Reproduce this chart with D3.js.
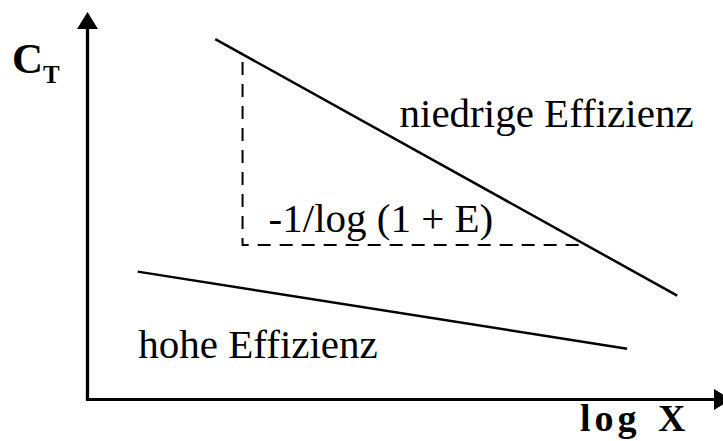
<!DOCTYPE html>
<html>
<head>
<meta charset="utf-8">
<script src="https://cdn.jsdelivr.net/npm/d3@7"></script>
<style>
  body { margin: 0; background: #fff; }
  svg { display: block; }
</style>
</head>
<body>
<div class="container"></div>
<script>
// lines in log X / C_T units (schematic, no real scale)
const lowEff = [[2.01, 9.30], [9.28, 2.68]]
const highEff = [[0.79, 3.30], [8.49, 1.31]]
const slopeGuide = [[2.44, 8.71], [2.44, 3.99], [7.75, 3.99]]
const labels = ["niedrige Effizienz", "-1/log (1 + E)", "hohe Effizienz"]
const labelPos = [[4.91, 7.04], [2.85, 4.33], [0.80, 1.08]]

const width = 723
const height = 441

const xScale = d3.scaleLinear().domain([0, 10]).range([87.5, 723])
const yScale = d3.scaleLinear().domain([0, 10]).range([399.5, 12])

const svg = d3.select(".container").append("svg")
    .attr("width", width)
    .attr("height", height)

const defs = svg.append("defs")
defs.append("marker")
    .attr("id", "arrow")
    .attr("viewBox", "0 0 17 21")
    .attr("refX", 0)
    .attr("refY", 10.5)
    .attr("markerWidth", 17)
    .attr("markerHeight", 21)
    .attr("markerUnits", "userSpaceOnUse")
    .attr("orient", "auto")
    .append("path")
    .attr("d", "M0,0 L17,10.5 L0,21 Z")
    .attr("fill", "#000")

const line = d3.line()
    .x(d => xScale(d[0]))
    .y(d => yScale(d[1]))

// axes: plain arrows
svg.append("path")
    .attr("d", `M${xScale(0)},${yScale(0)} L${xScale(0)},${yScale(10) + 17}`)
    .attr("stroke", "#000")
    .attr("stroke-width", 3.3)
    .attr("marker-end", "url(#arrow)")

svg.append("path")
    .attr("d", `M${xScale(0) - 1.6},${yScale(0)} L714,${yScale(0)}`)
    .attr("stroke", "#000")
    .attr("stroke-width", 3.2)
    .attr("marker-end", "url(#arrow)")

svg.append("path")
    .datum(slopeGuide)
    .attr("d", line)
    .attr("fill", "none")
    .attr("stroke", "#000")
    .attr("stroke-width", 2)
    .attr("stroke-dasharray", "13,9")

svg.selectAll(".eff")
    .data([lowEff, highEff])
    .enter()
    .append("path")
    .attr("class", "eff")
    .attr("d", line)
    .attr("fill", "none")
    .attr("stroke", "#000")
    .attr("stroke-width", 2.5)

svg.selectAll(".lbl")
    .data(labels)
    .enter()
    .append("text")
    .attr("class", "lbl")
    .attr("x", (d, i) => xScale(labelPos[i][0]))
    .attr("y", (d, i) => yScale(labelPos[i][1]))
    .attr("font-family", "Liberation Serif, Times New Roman, serif")
    .attr("font-size", 41)
    .attr("fill", "#000")
    .text(d => d)

// axis titles
const ct = svg.append("text")
    .attr("x", 12)
    .attr("y", 73)
    .attr("font-family", "Liberation Serif, Times New Roman, serif")
    .attr("font-weight", "bold")
    .attr("font-size", 43)
ct.append("tspan").text("C")
ct.append("tspan")
    .attr("x", 43)
    .attr("y", 83)
    .attr("font-size", 25)
    .text("T")

svg.append("text")
    .attr("x", 580)
    .attr("y", 431)
    .attr("font-family", "Liberation Serif, Times New Roman, serif")
    .attr("font-weight", "bold")
    .attr("font-size", 38)
    .attr("letter-spacing", 4)
    .attr("word-spacing", 4)
    .text("log X")
</script>
</body>
</html>
